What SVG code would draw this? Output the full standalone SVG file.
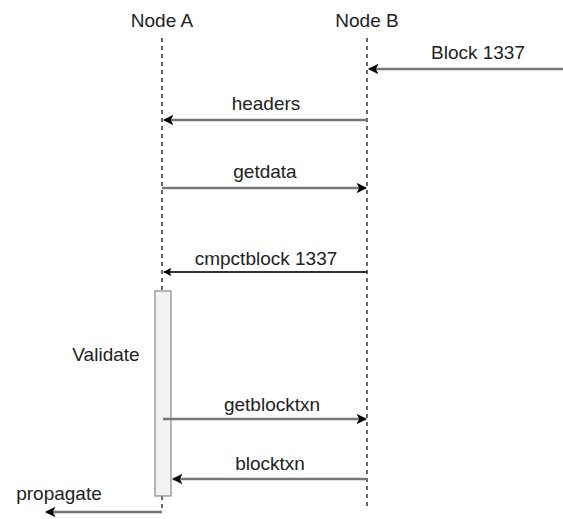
<svg xmlns="http://www.w3.org/2000/svg" width="563" height="519" viewBox="0 0 563 519">
<style>
text{font-family:"Liberation Sans",Arial,sans-serif;font-size:19px;fill:#222}
.life{stroke:#000;stroke-width:1.2;stroke-dasharray:4 4;fill:none}
.msg{stroke:#777;stroke-width:2.5;fill:none}
.msgd{stroke:#333;stroke-width:2;fill:none}
</style>
<defs>
<marker id="ah" viewBox="0 0 10 10" refX="9" refY="5" markerWidth="4.2" markerHeight="4.2" orient="auto" markerUnits="strokeWidth">
<path d="M0,0 L10,5 L0,10 L2.5,5 Z" fill="#000"/>
</marker>
</defs>
<rect width="563" height="519" fill="#fff"/>
<g id="nodeA">
<text x="162" y="27" text-anchor="middle">Node A</text>
<line class="life" x1="162" y1="38" x2="162" y2="291"/>
</g>
<g id="nodeB">
<text x="367" y="27" text-anchor="middle">Node B</text>
<line class="life" x1="367" y1="38" x2="367" y2="508"/>
</g>
<g id="activation">
<line class="life" x1="162" y1="496" x2="162" y2="512"/>
<rect x="155" y="291" width="16" height="205" fill="#f2f2f2" stroke="#888" stroke-width="1.2"/>
<text x="106" y="361" text-anchor="middle">Validate</text>
</g>
<g id="connectors">
<line class="msg" x1="563" y1="69" x2="369" y2="69" marker-end="url(#ah)"/>
<text x="478" y="59" text-anchor="middle">Block 1337</text>
<line class="msg" x1="367" y1="120" x2="164" y2="120" marker-end="url(#ah)"/>
<text x="266" y="110" text-anchor="middle">headers</text>
<line class="msg" x1="162" y1="188" x2="366" y2="188" marker-end="url(#ah)"/>
<text x="265" y="178" text-anchor="middle">getdata</text>
<line class="msgd" x1="367" y1="272" x2="164" y2="272" marker-end="url(#ah)"/>
<text x="266" y="265" text-anchor="middle">cmpctblock 1337</text>
<line class="msg" x1="163" y1="419" x2="366" y2="419" marker-end="url(#ah)"/>
<text x="272" y="411" text-anchor="middle">getblocktxn</text>
<line class="msg" x1="367" y1="479" x2="173" y2="479" marker-end="url(#ah)"/>
<text x="270" y="470" text-anchor="middle">blocktxn</text>
<line class="msg" x1="162" y1="512" x2="46" y2="512" marker-end="url(#ah)"/>
<text x="59" y="500" text-anchor="middle">propagate</text>
</g>
</svg>
